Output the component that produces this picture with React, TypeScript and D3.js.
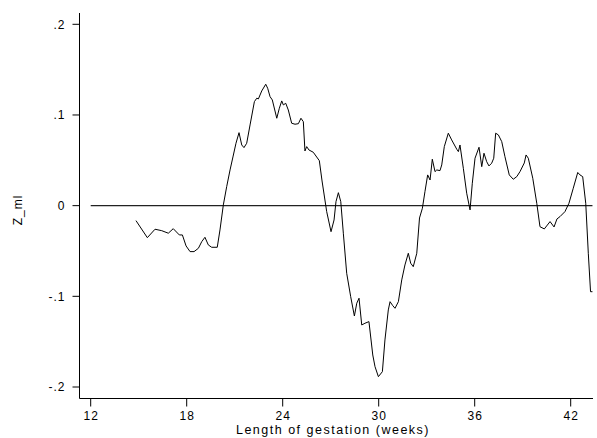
import React from "react";
import * as d3 from "d3";

const weeks = [
  14.83, 15.54, 16.02, 16.44, 16.85, 17.16, 17.54, 17.73, 17.96, 18.21, 18.46, 18.73, 18.94, 19.14, 19.35, 19.56, 19.91,
  20.08, 20.29, 20.5, 20.71, 20.89, 21.08, 21.27, 21.44, 21.58, 21.75, 21.96, 22.23, 22.38, 22.48, 22.69, 22.94, 23.06,
  23.21, 23.35, 23.63, 23.79, 23.94, 24.04, 24.19, 24.35, 24.56, 24.77, 24.98, 25.14, 25.29, 25.39, 25.5, 25.64, 25.91,
  26.29, 26.46, 26.75, 27.02, 27.21, 27.33, 27.48, 27.63, 27.79, 28.0, 28.25, 28.48, 28.63, 28.77, 28.94, 29.14, 29.39,
  29.63, 29.77, 29.98, 30.23, 30.39, 30.6, 30.71, 30.88, 31.02, 31.23, 31.44, 31.64, 31.85, 32.0, 32.16, 32.38, 32.55,
  32.73, 32.89, 33.06, 33.21, 33.35, 33.52, 33.63, 33.83, 33.94, 34.1, 34.35, 34.56, 34.88, 34.98, 35.08, 35.29, 35.5,
  35.71, 35.85, 36.02, 36.27, 36.44, 36.58, 36.75, 36.89, 37.06, 37.19, 37.31, 37.48, 37.69, 37.89, 38.16, 38.41, 38.63,
  38.83, 39.1, 39.21, 39.35, 39.63, 39.88, 40.08, 40.35, 40.71, 40.96, 41.14, 41.33, 41.64, 41.89, 42.16, 42.44, 42.58,
  42.75, 42.94, 43.1, 43.24, 43.36,
];

const zml = [
  -0.0165, -0.0353, -0.026, -0.0276, -0.0304, -0.0254, -0.0323, -0.0323, -0.0444, -0.0507, -0.0507, -0.047, -0.0397,
  -0.0349, -0.0433, -0.0459, -0.0459, -0.0268, 0.0008, 0.021, 0.0394, 0.0537, 0.0688, 0.0805, 0.0669, 0.064, 0.0688,
  0.089, 0.1147, 0.1185, 0.1177, 0.1265, 0.1339, 0.1295, 0.1202, 0.1166, 0.0964, 0.1074, 0.1155, 0.1111, 0.1129, 0.1055,
  0.0909, 0.0898, 0.0904, 0.0964, 0.0926, 0.0603, 0.0651, 0.0614, 0.0589, 0.0496, 0.0272, -0.0066, -0.0287, -0.0158,
  0.0044, 0.0143, 0.0044, -0.0304, -0.0746, -0.1004, -0.1217, -0.1076, -0.1021, -0.1316, -0.1297, -0.1279, -0.1647,
  -0.1776, -0.1886, -0.1831, -0.1481, -0.115, -0.1059, -0.1103, -0.1132, -0.1059, -0.0819, -0.0654, -0.0525, -0.0635,
  -0.0673, -0.0525, -0.0136, -0.0029, 0.0154, 0.0339, 0.0283, 0.0512, 0.0375, 0.0394, 0.0386, 0.0449, 0.0651, 0.0799,
  0.0725, 0.0622, 0.0596, 0.0669, 0.0412, 0.0137, -0.0047, 0.0247, 0.0523, 0.0644, 0.043, 0.0578, 0.0485, 0.0438, 0.0468,
  0.0523, 0.0799, 0.078, 0.0706, 0.054, 0.0339, 0.0291, 0.032, 0.0375, 0.0471, 0.0559, 0.0523, 0.0302, 0.0026, -0.0232,
  -0.0257, -0.0176, -0.0235, -0.0147, -0.0121, -0.0066, 0.0026, 0.0192, 0.0366, 0.0339, 0.032, 0.0026, -0.0525, -0.0949,
  -0.0949,
];

const xTicks = [12, 18, 24, 30, 36, 42];
const yTicks = [0.2, 0.1, 0, -0.1, -0.2];
const yTickLabels = [".2", ".1", "0", "-.1", "-.2"];
const xTitle = "Length of gestation (weeks)";
const yTitle = "Z_ml";
const refLineStart = 12;
const refLineEnd = 43.36;

const W = 597;
const H = 438;
const FONT = "'Liberation Sans', Arial, Helvetica, sans-serif";

export default function App() {
  const left = 79.5;
  const right = 593;
  const top = 13;
  const bottom = 398.5;

  const x = d3.scaleLinear().domain([12, 42]).range([90.7, 570.7]);
  const y = d3.scaleLinear().domain([0.2, -0.2]).range([24.3, 387.0]);

  const data = weeks.map((w, i) => [w, zml[i]] as [number, number]);
  const line = d3
    .line<[number, number]>()
    .x((d) => x(d[0]))
    .y((d) => y(d[1]));

  return (
    <svg
      width={W}
      height={H}
      style={{ position: "absolute", left: 0, top: 0, background: "#fff" }}
      fontFamily={FONT}
    >
      <rect x={0} y={0} width={W} height={H} fill="#fff" />
      <line x1={left} x2={left} y1={top} y2={bottom} stroke="#000" strokeWidth={1} />
      <line x1={left} x2={right} y1={bottom} y2={bottom} stroke="#000" strokeWidth={1} />
      {yTicks.map((t, i) => (
        <g key={"y" + i}>
          <line x1={left - 7} x2={left} y1={y(t)} y2={y(t)} stroke="#000" />
          <text
            x={left - 14}
            y={y(t)}
            dy="0.35em"
            textAnchor="end"
            fontSize={12}
            letterSpacing={1}
            fill="#000"
          >
            {yTickLabels[i]}
          </text>
        </g>
      ))}
      {xTicks.map((t) => (
        <g key={"x" + t}>
          <line x1={x(t)} x2={x(t)} y1={bottom} y2={bottom + 8} stroke="#000" />
          <text
            x={x(t) + 0.5}
            y={bottom + 17}
            dy="0.35em"
            textAnchor="middle"
            fontSize={12}
            letterSpacing={1}
            fill="#000"
          >
            {t}
          </text>
        </g>
      ))}
      <text
        x={333}
        y={430}
        dy="0.35em"
        textAnchor="middle"
        fontSize={12.5}
        letterSpacing={1.5}
        fill="#000"
      >
        {xTitle}
      </text>
      <text
        transform={`translate(18, 210) rotate(-90)`}
        textAnchor="middle"
        dy="0.35em"
        fontSize={12}
        letterSpacing={1}
        fill="#000"
      >
        {yTitle}
      </text>
      <line
        x1={x(refLineStart)}
        x2={x(refLineEnd)}
        y1={y(0)}
        y2={y(0)}
        stroke="#222"
        strokeWidth={1.2}
      />
      <path d={line(data) || ""} fill="none" stroke="#000" strokeWidth={1} strokeLinejoin="round" />
    </svg>
  );
}
